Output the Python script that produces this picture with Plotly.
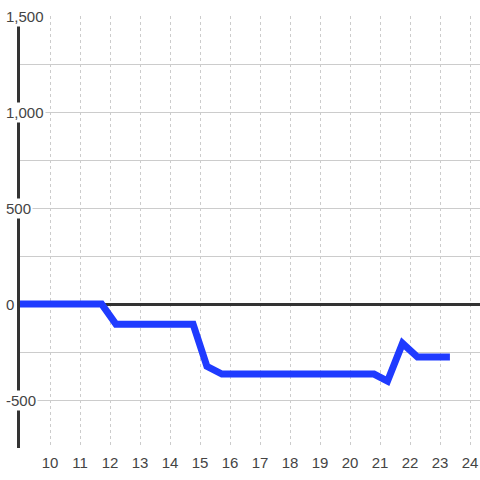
import plotly.graph_objects as go

# data
x_vals = [9, 11.72, 12.2, 14.77, 15.23, 15.73, 20.8, 21.25, 21.75, 22.25, 23.33]
y_vals = [0, 0, -105, -105, -325, -365, -365, -402, -205, -276, -276]

x_ticks = list(range(10, 25))
y_label_vals = [1500, 1000, 500, 0, -500]
y_label_text = ["1,500", "1,000", "500", "0", "-500"]

FONT = "Liberation Sans, Arial, sans-serif"
TXT = "#444444"
FS = 15

fig = go.Figure()
fig.add_trace(go.Scatter(
    x=x_vals, y=y_vals, mode="lines",
    line=dict(color="#1f3bff", width=7),
    hoverinfo="skip", showlegend=False,
))

annotations = []
for v, t in zip(y_label_vals, y_label_text):
    annotations.append(dict(
        xref="paper", yref="y", x=0, y=v, xanchor="left", yanchor="middle",
        xshift=-16, text=t, showarrow=False, bgcolor="white", borderpad=1,
        font=dict(family=FONT, size=FS, color=TXT),
    ))

fig.update_layout(
    width=480, height=480,
    margin=dict(l=20, r=0, t=16, b=32),
    paper_bgcolor="white", plot_bgcolor="white",
    font=dict(family=FONT, size=FS, color=TXT),
    annotations=annotations,
    hovermode=False,
    xaxis=dict(
        range=[9, 24.333], tickvals=x_ticks, ticktext=[str(v) for v in x_ticks],
        showgrid=True, gridcolor="#cccccc", gridwidth=1, griddash="dot",
        zeroline=False, showline=False, ticks="", ticklen=0,
        ticklabelstandoff=4,
        tickfont=dict(family=FONT, size=FS, color=TXT),
        layer="below traces",
    ),
    yaxis=dict(
        range=[-750, 1500], dtick=250, tick0=0,
        showgrid=True, gridcolor="#cccccc", gridwidth=1,
        zeroline=True, zerolinecolor="#333333", zerolinewidth=3,
        showline=True, linecolor="#333333", linewidth=3,
        showticklabels=False, ticks="",
        layer="below traces",
    ),
)

fig.write_html(
    "out.html",
    config={"displayModeBar": False, "staticPlot": True},
    post_script="document.body.style.margin='0';document.body.style.overflow='hidden';",
)
